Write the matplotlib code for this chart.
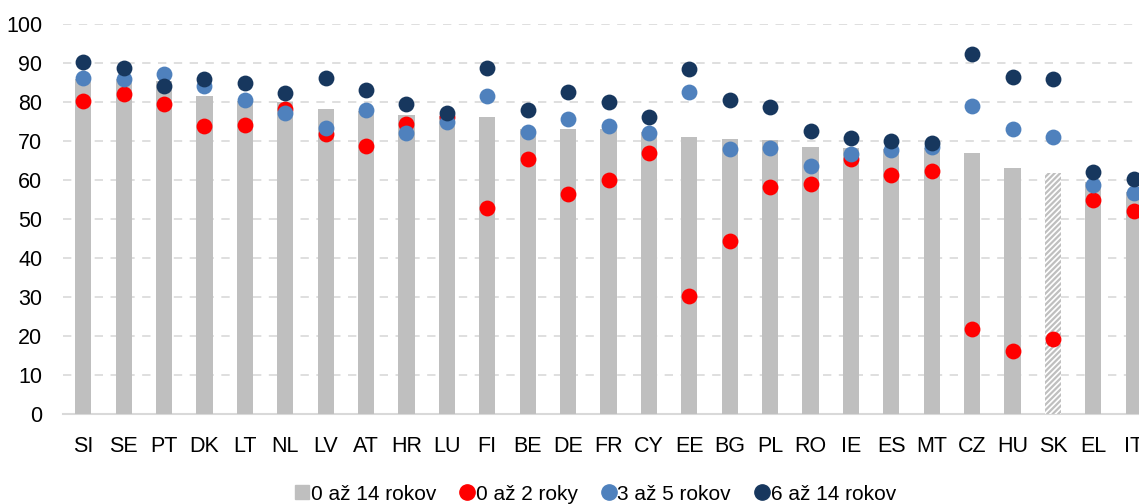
import matplotlib.pyplot as plt
from matplotlib.lines import Line2D
import numpy as np

plt.rcParams['font.family'] = ['Liberation Sans Narrow', 'Liberation Sans', 'DejaVu Sans']
plt.rcParams['hatch.color'] = '#BFBFBF'
plt.rcParams['hatch.linewidth'] = 1.6

countries = ['SI', 'SE', 'PT', 'DK', 'LT', 'NL', 'LV', 'AT', 'HR', 'LU', 'FI', 'BE', 'DE', 'FR',
             'CY', 'EE', 'BG', 'PL', 'RO', 'IE', 'ES', 'MT', 'CZ', 'HU', 'SK', 'EL', 'IT']
age_0_14 = [86.0, 86.0, 85.5, 81.6, 80.3, 80.1, 78.2, 77.8, 76.6, 76.4, 76.2, 73.2, 73.1, 73.0,
            72.3, 70.9, 70.6, 70.3, 68.5, 68.3, 68.0, 68.2, 66.8, 63.2, 61.7, 59.5, 56.8]
age_0_2 = [80.3, 82.0, 79.6, 73.8, 74.2, 78.1, 71.7, 68.7, 74.3, 76.1, 52.9, 65.4, 56.4, 60.0,
           67.0, 30.3, 44.4, 58.1, 59.1, 65.5, 61.3, 62.3, 21.7, 16.2, 19.2, 54.8, 52.1]
age_3_5 = [86.2, 85.9, 87.2, 84.2, 80.5, 77.3, 73.4, 78.0, 72.1, 74.9, 81.6, 72.3, 75.6, 73.8,
           72.1, 82.6, 67.9, 68.3, 63.5, 66.6, 67.8, 68.5, 78.9, 73.2, 70.9, 58.6, 56.6]
age_6_14 = [90.3, 88.6, 84.1, 85.9, 84.9, 82.4, 86.1, 83.1, 79.6, 77.3, 88.8, 77.9, 82.6, 80.1,
            76.1, 88.4, 80.4, 78.8, 72.6, 70.7, 70.0, 69.4, 92.2, 86.4, 86.0, 62.1, 60.3]
labels = ['0 až 14 rokov', '0 až 2 roky', '3 až 5 rokov', '6 až 14 rokov']

gray = '#BFBFBF'
red = '#FF0000'
blue = '#4F81BD'
navy = '#17375E'

fig = plt.figure(figsize=(11.39, 5.04), dpi=100)
ax = fig.add_axes([63 / 1139, 90 / 504, 1091 / 1139, 390 / 504])

x = np.arange(len(countries))
bars = ax.bar(x, age_0_14, width=0.4, color=gray, zorder=2)
# SK ma srafovany stlpec
sk = countries.index('SK')
bars[sk].set_facecolor('white')
bars[sk].set_hatch('//////')
bars[sk].set_edgecolor(gray)
bars[sk].set_linewidth(0)

ms = 130
ax.scatter(x, age_0_2, s=ms, color=red, zorder=3, clip_on=False, linewidths=0)
ax.scatter(x, age_3_5, s=ms, color=blue, zorder=4, clip_on=False, linewidths=0)
ax.scatter(x, age_6_14, s=ms, color=navy, zorder=5, clip_on=False, linewidths=0)

ax.set_xlim(-0.5, len(countries) - 0.5)
ax.set_ylim(0, 100)
ax.set_yticks(range(0, 101, 10))
ax.set_xticks(x)
ax.set_xticklabels(countries)
ax.tick_params(axis='both', length=0, labelsize=15.5, colors='black')
ax.tick_params(axis='x', pad=16)
ax.tick_params(axis='y', pad=15)

ax.yaxis.grid(True, color='#D9D9D9', linestyle=(0, (5, 4.5)), linewidth=1.2, zorder=0)
ax.set_axisbelow(True)
for s in ['top', 'right', 'left']:
    ax.spines[s].set_visible(False)
ax.spines['bottom'].set_color('#D9D9D9')
ax.spines['bottom'].set_linewidth(1.5)
ax.spines['bottom'].set_zorder(1)

handles = [
    Line2D([], [], marker='s', linestyle='none', color=gray, markersize=10),
    Line2D([], [], marker='o', linestyle='none', color=red, markersize=11),
    Line2D([], [], marker='o', linestyle='none', color=blue, markersize=11),
    Line2D([], [], marker='o', linestyle='none', color=navy, markersize=11),
]
fig.legend(handles, labels, loc='center', bbox_to_anchor=(596 / 1139, 10 / 504), ncol=4,
           frameon=False, fontsize=15, handlelength=0.6, handletextpad=0.1,
           columnspacing=1.2, borderaxespad=0)

fig.savefig('out.png', dpi=100)
